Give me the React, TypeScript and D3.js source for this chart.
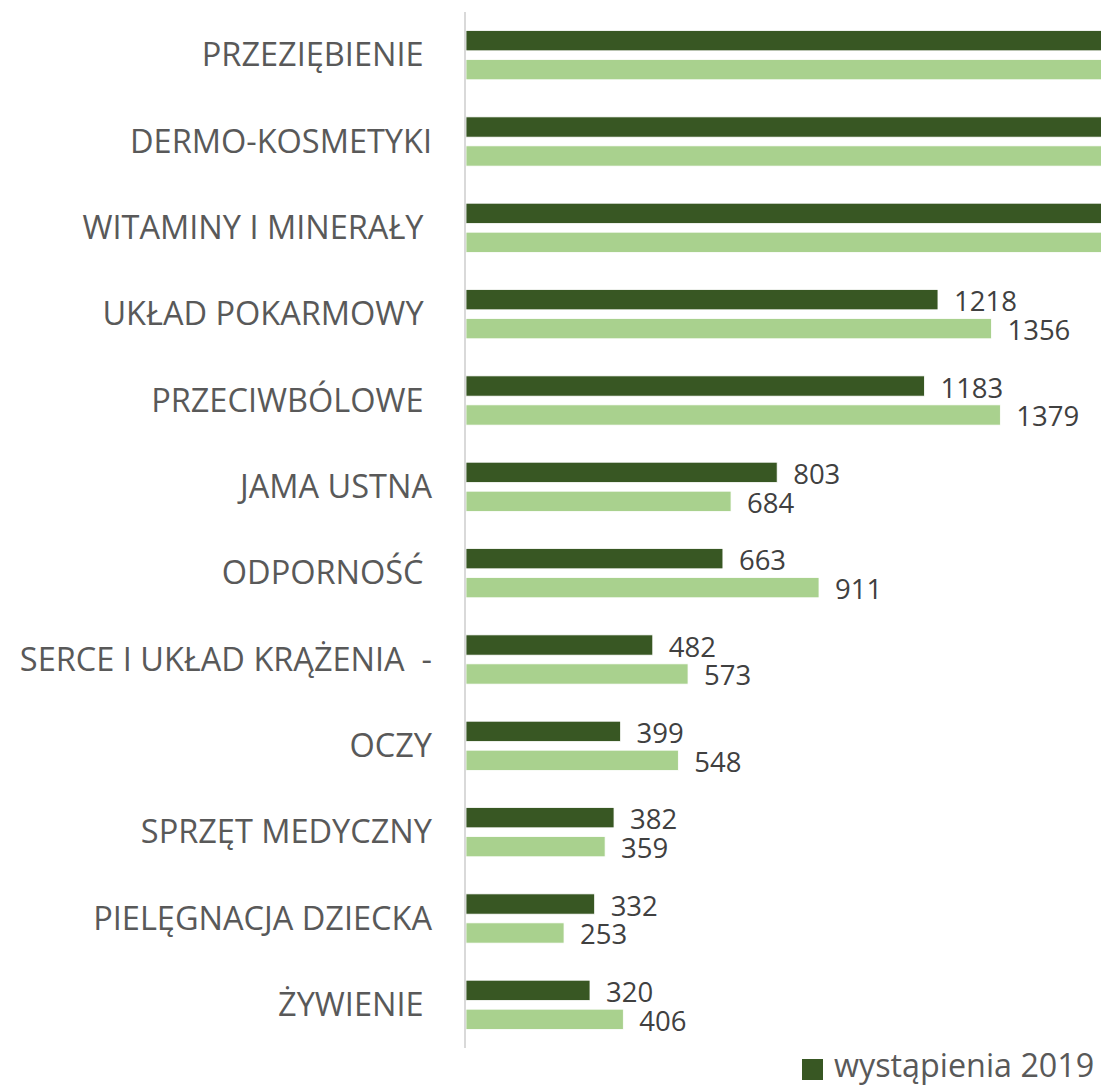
import React from "react";
import * as d3 from "d3";

const categories = [
  "PRZEZIĘBIENIE ",
  "DERMO-KOSMETYKI",
  "WITAMINY I MINERAŁY ",
  "UKŁAD POKARMOWY ",
  "PRZECIWBÓLOWE ",
  "JAMA USTNA",
  "ODPORNOŚĆ ",
  "SERCE I UKŁAD KRĄŻENIA  -",
  "OCZY",
  "SPRZĘT MEDYCZNY",
  "PIELĘGNACJA DZIECKA",
  "ŻYWIENIE ",
];
const seriesNames = ["wystąpienia 2019", "wystąpienia 2020"];
const values2019 = [2573, 1985, 1871, 1218, 1183, 803, 663, 482, 399, 382, 332, 320];
const values2020 = [2804, 2112, 1950, 1356, 1379, 684, 911, 573, 548, 359, 253, 406];
const colors = ["#385723", "#A9D18E"];

const W = 1101;
const H = 1087;
const FONT = "'Open Sans', 'Noto Sans', sans-serif";

export default function App() {
  const x = d3.scaleLinear().domain([0, 3000]).range([466, 466 + 3000 * 0.3875]);
  const y = d3.scaleBand<string>().domain(categories).range([12, 1048]).padding(0);
  const sub = d3
    .scaleBand<string>()
    .domain(seriesNames)
    .range([0, y.bandwidth()])
    .paddingInner(0.3)
    .paddingOuter(0.64);
  const series = [values2019, values2020];

  return (
    <div style={{ position: "absolute", left: 0, top: 0 }}>
      <svg width={W} height={H} style={{ display: "block", background: "#fff" }}>
        {categories.map((c, i) => (
          <g key={c}>
            {series.map((vals, s) => {
              const by = (y(c) as number) + (sub(seriesNames[s]) as number);
              const bh = sub.bandwidth();
              const lx = x(vals[i]) + 16;
              return (
                <g key={s}>
                  <rect
                    x={x(0)}
                    y={by}
                    width={x(vals[i]) - x(0)}
                    height={bh}
                    fill={colors[s]}
                    stroke="#ffffff"
                    strokeWidth={0.8}
                  />
                  {lx < W && (
                    <text
                      x={lx}
                      y={by + bh / 2 + 11.5}
                      fontFamily={FONT}
                      fontSize={27.5}
                      fill="#404040"
                    >
                      {vals[i]}
                    </text>
                  )}
                </g>
              );
            })}
            <text
              x={432}
              y={(y(c) as number) + y.bandwidth() / 2 + 11}
              textAnchor="end"
              fontFamily={FONT}
              fontSize={32.5}
              fill="#595959"
              style={{ whiteSpace: "pre" }}
            >
              {c}
            </text>
          </g>
        ))}
        <line x1={465} x2={465} y1={12} y2={1048} stroke="#d9d9d9" strokeWidth={2} />
        {seriesNames.map((s, k) => {
          const lx = 802 + k * 330;
          if (lx > W) return null;
          return (
            <g key={s}>
              <rect x={lx} y={1059} width={21} height={21} fill={colors[k]} />
              <text x={lx + 32} y={1077} fontFamily={FONT} fontSize={32.3} fill="#595959">
                {s}
              </text>
            </g>
          );
        })}
      </svg>
    </div>
  );
}
